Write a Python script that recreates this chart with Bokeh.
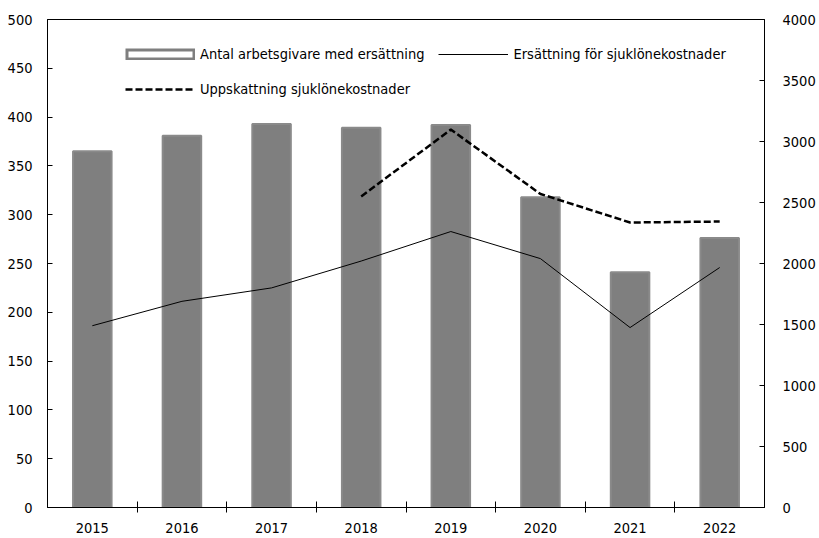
from bokeh.plotting import figure
from bokeh.models import (Range1d, LinearAxis, FixedTicker, Legend, LegendItem,
                          ColumnDataSource)
from bokeh.embed import file_html
from bokeh.resources import INLINE

years = ["2015", "2016", "2017", "2018", "2019", "2020", "2021", "2022"]
employers = [365, 381, 393, 389, 392, 318, 241, 276]
compensation = [1490, 1690, 1800, 2020, 2262, 2040, 1475, 1967]
estimate_years = ["2018", "2019", "2020", "2021", "2022"]
estimate = [2549, 3098, 2570, 2336, 2344]

left_ticks = list(range(0, 501, 50))
right_ticks = list(range(0, 4001, 500))

FONT = "DejaVu Sans Condensed"
FS = "14.5px"
GW = 70  # legend glyph width

xs = list(range(len(years)))
est_x = [years.index(y) for y in estimate_years]

p = figure(width=818, height=537, output_backend="svg", toolbar_location=None,
           x_range=Range1d(-0.5, len(years) - 0.5), y_range=Range1d(0, 500),
           min_border_left=47, min_border_right=52, min_border_top=19,
           min_border_bottom=30, x_axis_type=None, y_axis_type=None)
p.extra_y_ranges = {"right": Range1d(0, 4000)}
p.xgrid.visible = False
p.ygrid.visible = False
p.outline_line_color = "#000000"
p.outline_line_width = 1
p.background_fill_color = "white"
p.border_fill_color = "white"

src = ColumnDataSource(dict(x=xs, top=employers))
bars = p.vbar(x="x", top="top", width=0.43, source=src, fill_color="#7f7f7f",
              line_color="#8a8a8a", line_width=2)
# legend-only sample for the bars: grey frame with white interior
box_outer = p.line(x="x", y="top", source=src, line_color="#7f7f7f",
                   line_width=12, visible=False)
box_inner = p.line(x="x", y="top", source=src, line_color="white",
                   line_width=6, line_dash="0 3 %d 3" % (GW - 6), visible=False)
solid = p.line(xs, compensation, y_range_name="right", line_color="#000000",
               line_width=1)
dashed = p.line(est_x, estimate, y_range_name="right", line_color="#000000",
                line_width=2.5, line_dash="7 3")

# x axis: labels at centres, minor ticks at category boundaries
xaxis = LinearAxis(ticker=FixedTicker(ticks=xs,
                                      minor_ticks=[i + 0.5 for i in xs[:-1]]))
xaxis.major_label_overrides = {i: y for i, y in enumerate(years)}
xaxis.minor_tick_in = 6
xaxis.minor_tick_out = 5
xaxis.minor_tick_line_color = "#000000"
xaxis.major_label_standoff = 9
p.add_layout(xaxis, "below")

yl = LinearAxis(ticker=FixedTicker(ticks=left_ticks))
yl.major_tick_in = 5
yl.major_tick_out = 0
yl.minor_tick_line_color = None
yl.major_label_standoff = 15
p.add_layout(yl, "left")

yr = LinearAxis(y_range_name="right", ticker=FixedTicker(ticks=right_ticks))
yr.major_tick_in = 5
yr.major_tick_out = 0
yr.minor_tick_line_color = None
yr.major_label_standoff = 18
p.add_layout(yr, "right")

for ax in (xaxis, yl, yr):
    ax.major_label_text_font = FONT
    ax.major_label_text_font_size = FS
    ax.major_label_text_color = "#000000"
    ax.axis_line_color = "#000000"
    ax.major_tick_line_color = "#000000" if ax is not xaxis else None

legend = Legend(items=[
    LegendItem(label="Antal arbetsgivare med ersättning",
               renderers=[box_outer, box_inner]),
    LegendItem(label="Ersättning för sjuklönekostnader", renderers=[solid]),
    LegendItem(label="Uppskattning sjuklönekostnader", renderers=[dashed]),
], location=(78, 408), orientation="horizontal", ncols=2)
legend.label_text_font = FONT
legend.label_text_font_size = FS
legend.label_text_color = "#000000"
legend.label_height = 21
legend.glyph_width = GW
legend.glyph_height = 12
legend.label_standoff = 5
legend.spacing = 14
legend.padding = 0
legend.margin = 0
legend.border_line_color = None
legend.background_fill_alpha = 0
p.add_layout(legend)

open("out.html", "w").write(file_html(p, INLINE))
